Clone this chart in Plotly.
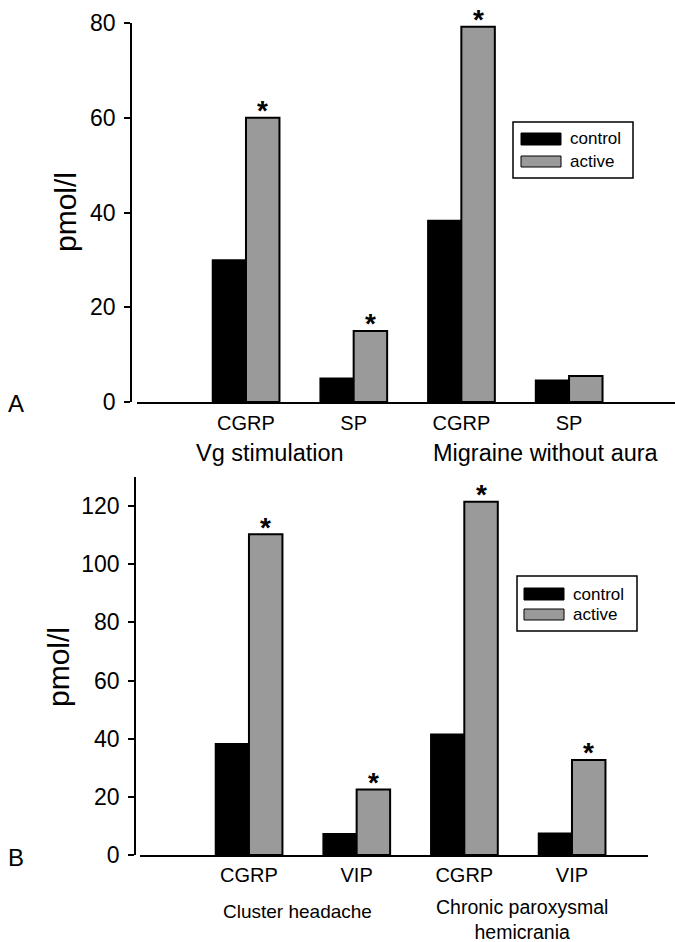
import plotly.graph_objects as go

W, H = 675, 942

# ---- data ----
top_markers = ["CGRP", "SP", "CGRP", "SP"]
top_groups = ["Vg stimulation", "Migraine without aura"]
top_control = [30, 5, 38.3, 4.6]
top_active = [60, 15, 79.2, 5.5]
top_sig = [True, True, True, False]

bot_markers = ["CGRP", "VIP", "CGRP", "VIP"]
bot_groups = ["Cluster headache", "Chronic paroxysmal<br>hemicrania"]
bot_control = [38.3, 7.3, 41.5, 7.5]
bot_active = [110.3, 22.5, 121.5, 32.7]
bot_sig = [True, True, True, True]

series_names = ["control", "active"]
series_colors = ["#000000", "#9a9a9a"]
unit_label = "pmol/l"
panel_letters = ["A", "B"]

FONT = "Liberation Sans, Arial, Helvetica, sans-serif"
BARGAP = 0.378


def px(x):
    return x / W


def py(y):
    return 1 - y / H


fig = go.Figure()
pos = list(range(4))
ann = []

panels = [
    dict(ctrl=top_control, act=top_active, sig=top_sig, xa="x", ya="y"),
    dict(ctrl=bot_control, act=bot_active, sig=bot_sig, xa="x2", ya="y2"),
]
for p in panels:
    fig.add_trace(go.Bar(x=pos, y=p["ctrl"], name=series_names[0],
                         marker=dict(color=series_colors[0], line=dict(color="black", width=1.5)),
                         xaxis=p["xa"], yaxis=p["ya"], showlegend=False, hoverinfo="skip"))
    fig.add_trace(go.Bar(x=pos, y=p["act"], name=series_names[1],
                         marker=dict(color=series_colors[1], line=dict(color="black", width=2)),
                         xaxis=p["xa"], yaxis=p["ya"], showlegend=False, hoverinfo="skip"))
    # significance asterisks above the active bars
    off = (1 - BARGAP) / 4
    for i, (v, s) in enumerate(zip(p["act"], p["sig"])):
        if s:
            ann.append(dict(text="<b>*</b>", x=i + off, y=v, xref=p["xa"], yref=p["ya"],
                            xanchor="center", yanchor="middle", yshift=7, showarrow=False,
                            font=dict(size=28, family=FONT, color="black")))

common_y = dict(showline=True, linecolor="black", linewidth=1.5, ticks="outside", ticklen=6,
                tickwidth=1.5, tickcolor="black", showgrid=False, zeroline=False,
                tickfont=dict(size=23, color="black", family=FONT), anchor="free",
                automargin=False, ticklabelstandoff=4)
common_x = dict(showline=True, linecolor="black", linewidth=1.5, ticks="", showgrid=False,
                zeroline=False, tickmode="array", tickvals=pos, automargin=False,
                tickfont=dict(size=20, color="black", family=FONT))

fig.update_layout(
    width=W, height=H, margin=dict(l=0, r=0, t=0, b=0, pad=0),
    paper_bgcolor="white", plot_bgcolor="white",
    barmode="group", bargap=BARGAP, bargroupgap=0,
    font=dict(family=FONT, color="black"),
    xaxis=dict(common_x, domain=[px(137), px(675)], range=[-1.012, 3.984], ticktext=top_markers,
               anchor="y", ticklabelstandoff=2),
    yaxis=dict(common_y, domain=[py(402), py(23)], range=[0, 80], tickvals=[0, 20, 40, 60, 80],
               position=px(131)),
    xaxis2=dict(common_x, domain=[px(140), px(648)], range=[-1.012, 3.706], ticktext=bot_markers,
                anchor="y2", ticklabelstandoff=1),
    yaxis2=dict(common_y, domain=[py(855), py(477)], range=[0, 130],
                tickvals=[0, 20, 40, 60, 80, 100, 120], position=px(135)),
)


def txt(text, x, y, size, xref="paper", yref="paper", xanchor="center", **kw):
    ann.append(dict(text=text, x=x, y=y, xref=xref, yref=yref, xanchor=xanchor,
                    yanchor="middle", showarrow=False,
                    font=dict(size=size, family=FONT, color="black"), **kw))


# axis titles
txt(unit_label, px(66), py(212), 30, textangle=-90)
txt(unit_label, px(58), py(667), 30, textangle=-90)
# panel letters
txt(panel_letters[0], px(16), py(403), 24)
txt(panel_letters[1], px(16), py(857), 24)
# group labels
txt(top_groups[0], 0.22, py(453), 23.5, xref="x")
txt(top_groups[1], 2.79, py(453), 23.5, xref="x")
txt(bot_groups[0], 0.45, py(911), 19, xref="x2")
txt(bot_groups[1], 2.54, py(919), 19.5, xref="x2")

shapes = []


def legend(x0, y0, x1, y1, sym_x0, sym_x1, sym_rows, text_x):
    shapes.append(dict(type="rect", xref="paper", yref="paper", x0=px(x0), x1=px(x1),
                       y0=py(y1), y1=py(y0), line=dict(color="black", width=1.5),
                       fillcolor="white"))
    for (r0, r1), nm, col in zip(sym_rows, series_names, series_colors):
        shapes.append(dict(type="rect", xref="paper", yref="paper", x0=px(sym_x0), x1=px(sym_x1),
                           y0=py(r1), y1=py(r0), line=dict(color="black", width=1),
                           fillcolor=col))
        txt(nm, px(text_x), py((r0 + r1) / 2), 17, xanchor="left")


legend(513, 122, 633, 178, 521, 561, [(133, 145), (156, 167)], 568)
legend(517, 576, 637, 631, 524, 564, [(588, 600), (609, 620)], 571)

fig.update_layout(annotations=ann, shapes=shapes)
fig.write_html("out.html", config={"displayModeBar": False},
               post_script="document.body.style.margin='0';document.body.style.padding='0';")
